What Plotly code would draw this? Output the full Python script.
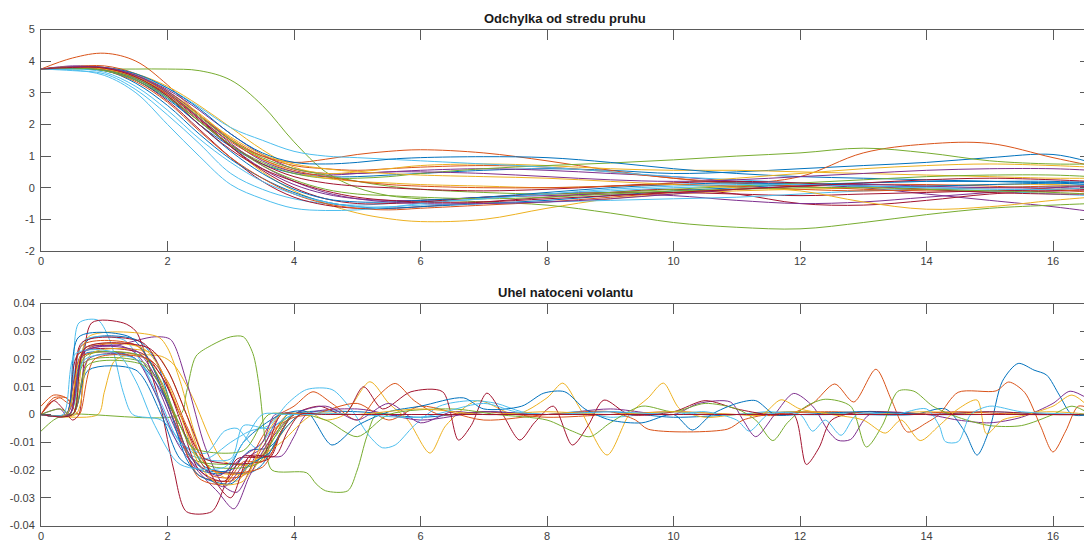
import plotly.graph_objects as go

# ---------------- data ----------------
colors = ["#0072BD", "#D95319", "#EDB120", "#7E2F8E", "#77AC30", "#4DBEEE", "#A2142F"]

title_top = "Odchylka od stredu pruhu"
title_bot = "Uhel natoceni volantu"

x_tickvals = [0, 2, 4, 6, 8, 10, 12, 14, 16]
x_ticktext = ["0", "2", "4", "6", "8", "10", "12", "14", "16"]
top_tickvals = [-2, -1, 0, 1, 2, 3, 4, 5]
top_ticktext = ["-2", "-1", "0", "1", "2", "3", "4", "5"]
bot_tickvals = [-0.04, -0.03, -0.02, -0.01, 0, 0.01, 0.02, 0.03, 0.04]
bot_ticktext = ["-0.04", "-0.03", "-0.02", "-0.01", "0", "0.01", "0.02", "0.03", "0.04"]

# lane deviation, sampled at these times
tt = [0, 0.5, 1, 1.5, 2, 2.5, 3, 3.5, 4, 4.5, 5, 5.5, 6, 7, 8, 9, 10, 11, 12, 13, 14, 15, 16, 16.6]

d01 = [3.75, 3.82, 3.78, 3.45, 2.85, 2.0, 1.3, 0.75, 0.45, 0.35, 0.35, 0.4, 0.45, 0.55, 0.6, 0.55, 0.45, 0.5, 0.6, 0.7, 0.8, 0.95, 1.05, 0.8]
d02 = [3.75, 4.1, 4.25, 4.0, 3.25, 2.3, 1.5, 1.0, 0.8, 0.9, 1.05, 1.15, 1.2, 1.1, 0.85, 0.55, 0.3, 0.15, 0.35, 1.1, 1.38, 1.4, 0.95, 0.7]
d03 = [3.75, 3.8, 3.75, 3.5, 3.0, 2.2, 1.3, 0.5, -0.1, -0.5, -0.8, -0.98, -1.07, -1.0, -0.65, -0.35, -0.2, -0.1, -0.05, 0.0, 0.05, 0.1, 0.1, 0.05]
d04 = [3.75, 3.85, 3.8, 3.55, 3.1, 2.45, 1.7, 1.05, 0.6, 0.45, 0.45, 0.5, 0.55, 0.6, 0.55, 0.45, 0.35, 0.2, 0.1, 0.0, -0.2, -0.4, -0.6, -0.75]
d05 = [3.75, 3.75, 3.75, 3.75, 3.75, 3.7, 3.4, 2.6, 1.45, 0.5, 0.0, -0.25, -0.35, -0.45, -0.55, -0.8, -1.1, -1.25, -1.3, -1.1, -0.85, -0.65, -0.55, -0.5]
d06 = [3.75, 3.7, 3.6, 3.1, 2.3, 1.4, 0.45, -0.05, -0.35, -0.5, -0.55, -0.5, -0.45, -0.35, -0.2, -0.1, 0.0, 0.05, 0.1, 0.15, 0.2, 0.2, 0.15, 0.1]
d07 = [3.75, 3.78, 3.72, 3.4, 2.75, 1.85, 0.95, 0.2, -0.3, -0.55, -0.65, -0.65, -0.6, -0.45, -0.3, -0.15, -0.05, -0.2, -0.5, -0.55, -0.4, -0.2, -0.1, -0.05]
d08 = [3.75, 3.8, 3.72, 3.3, 2.6, 1.7, 0.9, 0.3, -0.15, -0.45, -0.6, -0.65, -0.6, -0.5, -0.4, -0.25, -0.1, 0.0, 0.1, 0.15, 0.2, 0.2, 0.2, 0.15]
d09 = [3.75, 3.82, 3.85, 3.6, 3.05, 2.3, 1.55, 1.0, 0.7, 0.6, 0.55, 0.6, 0.65, 0.7, 0.65, 0.5, 0.3, 0.15, 0.05, -0.05, -0.1, -0.1, -0.05, 0.0]
d10 = [3.75, 3.83, 3.8, 3.6, 3.2, 2.6, 1.9, 1.2, 0.65, 0.45, 0.5, 0.6, 0.7, 0.75, 0.7, 0.6, 0.55, 0.55, 0.5, 0.45, 0.4, 0.35, 0.3, 0.3]
d11 = [3.75, 3.8, 3.75, 3.45, 2.9, 2.1, 1.3, 0.6, 0.1, -0.2, -0.35, -0.4, -0.4, -0.3, -0.25, -0.2, -0.25, -0.4, -0.5, -0.45, -0.3, -0.15, 0.0, 0.1]
d12 = [3.75, 3.78, 3.72, 3.45, 2.9, 2.1, 1.35, 0.8, 0.45, 0.3, 0.3, 0.35, 0.45, 0.6, 0.7, 0.78, 0.88, 1.0, 1.1, 1.25, 1.1, 0.85, 0.75, 0.75]
d13 = [3.75, 3.8, 3.75, 3.55, 3.15, 2.55, 1.9, 1.5, 1.15, 1.0, 0.95, 0.9, 0.85, 0.75, 0.65, 0.5, 0.35, 0.25, 0.15, 0.05, 0.0, 0.0, 0.05, 0.1]
d14 = [3.75, 3.8, 3.75, 3.5, 3.0, 2.2, 1.3, 0.55, 0.0, -0.35, -0.5, -0.5, -0.45, -0.3, -0.2, -0.15, -0.15, -0.2, -0.25, -0.2, -0.15, -0.1, -0.1, -0.1]
d15 = [3.75, 3.8, 3.8, 3.6, 3.15, 2.5, 1.7, 1.1, 0.8, 0.75, 0.8, 0.9, 0.95, 0.98, 0.95, 0.8, 0.6, 0.45, 0.35, 0.3, 0.25, 0.2, 0.15, 0.1]
d16 = [3.75, 3.78, 3.7, 3.35, 2.7, 1.8, 0.95, 0.3, -0.2, -0.5, -0.65, -0.7, -0.65, -0.55, -0.45, -0.3, -0.15, -0.05, 0.05, 0.1, 0.1, 0.05, -0.05, -0.15]
d17 = [3.75, 3.8, 3.78, 3.55, 3.05, 2.35, 1.55, 0.9, 0.5, 0.3, 0.2, 0.15, 0.1, 0.05, 0.0, 0.05, 0.15, 0.3, 0.45, 0.6, 0.7, 0.75, 0.7, 0.65]
d18 = [3.75, 3.82, 3.78, 3.55, 3.05, 2.3, 1.5, 0.85, 0.5, 0.4, 0.45, 0.5, 0.5, 0.45, 0.35, 0.25, 0.2, 0.25, 0.35, 0.45, 0.55, 0.6, 0.6, 0.55]
d19 = [3.75, 3.8, 3.75, 3.5, 3.0, 2.25, 1.5, 0.95, 0.6, 0.4, 0.2, 0.05, -0.05, -0.15, -0.2, -0.15, -0.05, 0.05, 0.15, 0.25, 0.35, 0.4, 0.4, 0.35]
d20 = [3.75, 3.76, 3.65, 3.2, 2.45, 1.55, 0.8, 0.2, -0.2, -0.45, -0.6, -0.6, -0.55, -0.5, -0.45, -0.4, -0.35, -0.3, -0.2, -0.1, -0.05, -0.1, -0.2, -0.25]
d21 = [3.75, 3.8, 3.75, 3.5, 2.95, 2.15, 1.35, 0.75, 0.35, 0.15, 0.05, 0.0, -0.05, -0.1, -0.05, 0.05, 0.15, 0.2, 0.15, 0.05, -0.05, -0.15, -0.2, -0.2]
d22 = [3.75, 3.78, 3.7, 3.4, 2.8, 2.0, 1.15, 0.45, -0.05, -0.35, -0.45, -0.45, -0.4, -0.3, -0.15, 0.0, 0.1, 0.15, 0.1, 0.05, 0.05, 0.1, 0.15, 0.2]
d23 = [3.75, 3.8, 3.78, 3.5, 2.95, 2.2, 1.45, 0.9, 0.55, 0.35, 0.2, 0.1, 0.05, 0.0, 0.0, 0.05, 0.1, 0.05, -0.05, -0.1, -0.05, 0.0, 0.05, 0.05]
d24 = [3.75, 3.8, 3.75, 3.5, 3.0, 2.3, 1.6, 1.05, 0.75, 0.6, 0.5, 0.45, 0.4, 0.35, 0.3, 0.2, 0.1, 0.0, -0.1, -0.45, -0.68, -0.6, -0.4, -0.3]
d25 = [3.75, 3.82, 3.8, 3.55, 3.0, 2.2, 1.4, 0.7, 0.2, -0.15, -0.35, -0.45, -0.5, -0.5, -0.45, -0.35, -0.2, -0.05, 0.05, 0.1, 0.05, 0.0, 0.0, 0.05]
d26 = [3.75, 3.78, 3.7, 3.4, 2.85, 2.1, 1.35, 0.7, 0.25, -0.05, -0.2, -0.25, -0.3, -0.35, -0.3, -0.2, -0.1, -0.05, 0.0, 0.0, -0.05, -0.1, -0.15, -0.2]
d27 = [3.75, 3.72, 3.55, 3.0, 2.0, 1.0, 0.1, -0.35, -0.65, -0.72, -0.7, -0.62, -0.5, -0.35, -0.2, -0.05, 0.05, 0.1, 0.1, 0.05, 0.0, -0.05, -0.05, 0.0]
d28 = [3.75, 3.8, 3.78, 3.5, 2.9, 2.0, 1.2, 0.6, 0.2, -0.1, -0.3, -0.4, -0.45, -0.45, -0.35, -0.25, -0.15, -0.05, 0.05, 0.15, 0.25, 0.3, 0.25, 0.2]

dev_series = [d01, d02, d03, d04, d05, d06, d07, d08, d09, d10, d11, d12, d13, d14,
              d15, d16, d17, d18, d19, d20, d21, d22, d23, d24, d25, d26, d27, d28]

# steering angle: breakpoint times / values for each run
st01 = [0, 0.4, 0.5, 0.6, 0.7, 1.3, 1.5, 1.8, 2.1, 2.4, 2.6, 3.3, 3.5, 3.8, 4.0, 5.0, 6.0, 7.0, 8.0, 9.0, 10.0, 11.0, 12.0, 13.0, 13.8, 14.3, 14.6, 14.8, 15.0, 15.2, 15.45, 15.7, 15.9, 16.1, 16.3, 16.6]
sv01 = [0, 0, 0.006, 0.018, 0.022, 0.022, 0.02, 0.012, 0.0, -0.012, -0.019, -0.021, -0.018, -0.006, 0.0, 0.001, -0.001, 0.001, 0.0, 0.001, -0.001, 0.0, 0.001, 0.0, 0.0, 0.002, -0.006, -0.0146, -0.005, 0.012, 0.0184, 0.016, 0.0142, 0.007, 0.0, 0.0]
st02 = [0, 0.2, 0.3, 0.45, 0.55, 0.7, 0.9, 1.5, 1.7, 2.0, 2.3, 2.5, 3.0, 3.2, 3.5, 3.7, 4.0, 4.3, 4.6, 5.0, 5.3, 5.6, 5.9, 6.3, 7.0, 8.0, 9.0, 10.0, 11.0, 11.8, 12.2, 12.55, 12.85, 13.2, 13.45, 13.7, 14.0, 14.2, 14.5, 15.1, 15.3, 15.55, 15.8, 16.0, 16.2, 16.4, 16.6]
sv02 = [0, 0.005, 0.006, 0.004, 0.012, 0.023, 0.025, 0.025, 0.02, 0.004, -0.014, -0.022, -0.024, -0.02, -0.008, -0.001, 0.003, 0.0082, 0.004, -0.002, 0.006, 0.0112, 0.005, 0.0, 0.001, -0.001, 0.0, 0.001, 0.0, 0.0, 0.004, 0.011, 0.0045, 0.0163, 0.005, -0.0063, -0.003, 0.0, 0.008, 0.0085, 0.0117, 0.008, -0.004, -0.0135, -0.006, 0.003, 0.002]
st03 = [0, 0.9, 1.0, 1.15, 1.3, 1.9, 2.1, 2.4, 2.7, 2.9, 3.4, 3.6, 3.9, 4.2, 4.5, 4.8, 5.2, 5.5, 5.8, 6.15, 6.4, 6.9, 7.5, 8.0, 8.25, 8.5, 8.95, 9.3, 9.6, 9.84, 10.1, 10.5, 11.0, 12.0, 13.0, 14.0, 15.0, 16.0, 16.6]
sv03 = [0, 0, 0.008, 0.019, 0.021, 0.021, 0.018, 0.006, -0.01, -0.017, -0.018, -0.014, -0.004, 0.001, -0.002, 0.0, 0.0118, 0.004, -0.002, -0.0139, -0.004, 0.005, 0.0, 0.006, 0.0113, 0.003, -0.0146, 0.0, 0.006, 0.0113, 0.002, -0.001, 0.0, 0.001, 0.0, 0.001, 0.0, 0.001, 0.0]
st04 = [0, 0.4, 0.5, 0.6, 0.7, 1.2, 1.8, 2.05, 2.3, 2.6, 2.9, 3.1, 3.3, 3.4, 3.8, 4.0, 4.2, 5.0, 6.0, 7.0, 8.0, 9.0, 10.0, 10.4, 10.9, 11.1, 11.3, 11.6, 11.9, 12.2, 12.45, 12.6, 12.8, 13.1, 14.0, 14.5, 15.0, 15.5, 16.0, 16.27, 16.6]
sv04 = [0, 0.0, 0.004, 0.016, 0.024, 0.025, 0.028, 0.027, 0.012, -0.012, -0.026, -0.028, -0.02, -0.015, -0.015, -0.008, 0.0, 0.002, -0.002, 0.001, 0.0, 0.002, 0.0, 0.004, 0.0045, -0.002, -0.008, 0.0, 0.0076, 0.003, -0.006, -0.0093, -0.009, 0.0, 0.0, -0.002, -0.003, -0.001, 0.004, 0.0084, 0.005]
st05 = [0, 0.2, 0.4, 2.2, 2.3, 2.45, 2.7, 3.0, 3.2, 3.35, 3.45, 3.55, 3.65, 4.2, 4.35, 4.5, 4.85, 5.0, 5.15, 5.3, 5.6, 16.6]
sv05 = [-0.006, -0.002, 0.0, 0.0, 0.008, 0.021, 0.025, 0.028, 0.028, 0.022, 0.01, -0.01, -0.02, -0.021, -0.025, -0.0275, -0.0275, -0.02, -0.008, 0.0, 0.0, 0.0]
st06 = [0, 0.4, 0.5, 0.6, 0.9, 1.1, 1.3, 1.45, 1.9, 2.3, 2.6, 3.0, 3.3, 3.6, 3.9, 4.2, 4.6, 4.9, 5.2, 5.4, 5.6, 5.9, 6.3, 6.8, 7.2, 7.6, 8.0, 8.5, 9.0, 9.5, 10.0, 10.5, 11.0, 11.5, 12.0, 12.5, 13.0, 14.0, 15.0, 16.0, 16.6]
sv06 = [0, 0.0, 0.012, 0.033, 0.034, 0.026, 0.008, 0.0, -0.002, -0.012, -0.016, -0.01, -0.006, -0.004, 0.004, 0.009, 0.009, 0.002, -0.008, -0.012, -0.011, -0.004, 0.003, 0.005, 0.004, 0.001, 0.0, 0.001, -0.001, 0.0, 0.001, 0.0, 0.0, 0.001, 0.0, 0.0, 0.001, 0.0, 0.001, 0.0, 0.0]
st07 = [0, 0.2, 0.35, 0.5, 0.6, 0.8, 1.3, 1.5, 1.7, 1.9, 2.1, 2.3, 2.7, 2.9, 3.1, 3.6, 3.8, 4.0, 4.4, 4.8, 5.1, 5.4, 5.85, 6.35, 6.6, 6.8, 7.05, 7.3, 7.57, 7.8, 8.1, 8.4, 8.65, 8.9, 9.3, 10.0, 10.5, 11.0, 11.5, 11.9, 12.1, 12.3, 12.5, 13.0, 14.0, 15.0, 16.0, 16.6]
sv07 = [0, 0.005, 0.002, -0.002, 0.0, 0.033, 0.033, 0.03, 0.018, 0.002, -0.02, -0.035, -0.035, -0.026, -0.016, -0.015, -0.006, 0.0, 0.003, 0.0, 0.01, 0.002, 0.0082, 0.0082, -0.0092, -0.004, 0.0077, 0.0, -0.0092, -0.003, 0.003, -0.011, -0.004, 0.0052, 0.0, 0.001, 0.005, 0.002, 0.0, 0.0, -0.018, -0.012, -0.002, 0.001, 0.0, 0.001, 0.0, 0.0]
st08 = [0, 0.45, 0.55, 0.75, 1.5, 1.8, 2.1, 2.35, 2.6, 3.0, 3.3, 3.6, 3.9, 4.1, 4.5, 16.6]
sv08 = [0, 0, 0.01, 0.027, 0.027, 0.02, 0.0, -0.015, -0.02, -0.02, -0.013, -0.012, -0.004, 0.0, 0.0, 0.0]
st09 = [0, 0.2, 0.4, 0.45, 0.65, 1.6, 1.9, 2.2, 2.5, 2.7, 3.2, 3.5, 3.7, 4.0, 4.3, 5.0, 5.5, 6.0, 7.0, 8.0, 9.0, 9.4, 9.6, 10.85, 11.1, 11.5, 12.5, 13.5, 14.5, 15.5, 16.6]
sv09 = [0.0, 0.006, 0.006, 0.005, 0.021, 0.021, 0.014, 0.0, -0.016, -0.022, -0.022, -0.012, -0.005, -0.001, 0.0, 0.004, -0.002, 0.003, -0.002, 0.0, 0.001, -0.002, -0.0053, -0.0053, -0.002, 0.0, 0.001, 0.0, 0.001, 0.0, 0.0]
st10 = [0, 0.5, 0.6, 0.75, 1.85, 2.0, 2.2, 2.45, 2.7, 3.3, 3.5, 3.8, 4.0, 4.4, 16.6]
sv10 = [0, 0, 0.01, 0.028, 0.028, 0.024, 0.012, -0.008, -0.02, -0.021, -0.014, -0.003, 0.0, 0.0, 0.0]
st11 = [0, 0.3, 0.4, 0.65, 1.2, 1.5, 1.8, 2.1, 2.4, 2.8, 3.05, 3.3, 3.6, 4.0, 4.5, 5.0, 5.5, 6.0, 6.5, 7.0, 7.4, 16.6]
sv11 = [0, 0.002, 0.0, 0.022, 0.025, 0.022, 0.012, -0.004, -0.018, -0.028, -0.034, -0.022, -0.01, 0.0, 0.003, -0.002, 0.004, -0.003, 0.001, 0.0, 0.0, 0.0]
st12 = [0, 0.45, 0.7, 1.6, 1.8, 2.1, 2.4, 3.0, 3.4, 3.7, 4.0, 4.5, 5.0, 5.5, 6.5, 7.2, 8.0, 8.4, 8.68, 9.0, 9.5, 10.0, 10.5, 11.0, 11.3, 11.57, 11.8, 12.1, 12.4, 12.8, 13.05, 13.3, 13.55, 13.8, 14.1, 14.5, 15.0, 15.5, 16.0, 16.3, 16.6]
sv12 = [0, 0, 0.019, 0.019, 0.014, 0.0, -0.016, -0.018, -0.017, -0.008, 0.0, -0.002, -0.008, 0.0, 0.002, 0.0, -0.002, -0.006, -0.008, -0.003, 0.003, 0.001, 0.004, 0.002, -0.002, -0.0094, -0.003, 0.003, 0.0055, 0.003, -0.0117, -0.004, 0.0084, 0.0084, 0.003, -0.001, -0.004, -0.004, 0.0, 0.003, 0.0]
st13 = [0, 0.4, 0.5, 0.7, 1.3, 1.5, 1.8, 2.1, 2.4, 3.0, 3.2, 3.6, 4.0, 4.4, 16.6]
sv13 = [0, 0, 0.012, 0.027, 0.027, 0.022, 0.008, -0.008, -0.015, -0.016, -0.004, -0.005, 0.0, 0.0, 0.0]
st14 = [0, 0.4, 0.6, 1.6, 1.9, 2.2, 2.6, 3.6, 3.8, 4.0, 4.4, 16.6]
sv14 = [0, 0, 0.022, 0.022, 0.014, 0.0, -0.016, -0.016, -0.006, 0.0, 0.0, 0.0]
st15 = [0, 0.5, 0.75, 1.5, 1.9, 2.2, 2.5, 2.9, 3.2, 3.5, 3.8, 4.2, 4.6, 5.0, 5.5, 6.0, 6.68, 7.0, 7.6, 7.95, 8.28, 8.6, 9.0, 9.5, 10.0, 10.3, 10.6, 11.0, 11.3, 11.6, 12.0, 13.0, 14.0, 15.0, 16.6]
sv15 = [0, 0, 0.016, 0.016, 0.0, -0.016, -0.02, -0.021, -0.01, -0.004, 0.0, 0.001, -0.011, -0.004, 0.001, 0.003, 0.006, 0.002, 0.003, 0.0077, 0.0082, 0.002, -0.002, -0.003, 0.0, -0.0056, 0.0, 0.004, 0.005, 0.0, 0.0, 0.001, 0.0, 0.0, 0.0]
st16 = [0, 0.45, 0.65, 1.5, 1.8, 2.1, 2.5, 2.9, 3.2, 3.5, 3.7, 3.9, 4.3, 16.6]
sv16 = [0, 0, 0.025, 0.025, 0.016, 0.0, -0.023, -0.025, -0.017, -0.017, -0.006, 0.0, 0.0, 0.0]
st17 = [0, 0.55, 0.8, 1.8, 2.0, 2.3, 2.6, 3.1, 3.3, 3.8, 4.3, 5.0, 6.0, 7.0, 8.0, 9.0, 10.0, 11.0, 11.4, 11.7, 12.0, 12.5, 13.0, 13.35, 13.6, 13.9, 14.2, 14.5, 14.8, 14.95, 15.2, 15.6, 16.0, 16.3, 16.6]
sv17 = [0, 0, 0.022, 0.022, 0.016, 0.0, -0.018, -0.024, -0.018, -0.01, 0.0, 0.0, 0.002, 0.0, 0.001, 0.0, 0.001, 0.0, 0.0, 0.0053, 0.002, 0.0, -0.002, -0.0067, -0.002, -0.0094, -0.004, 0.002, 0.0052, -0.007, -0.002, 0.0, 0.003, 0.007, 0.002]
st18 = [0, 0.5, 0.75, 1.2, 1.5, 1.8, 2.2, 2.6, 2.9, 3.3, 3.5, 3.8, 4.2, 16.6]
sv18 = [0, 0, 0.02, 0.022, 0.02, 0.008, -0.012, -0.022, -0.026, -0.015, -0.012, 0.0, 0.0, 0.0]
st19 = [0, 0.3, 0.5, 0.7, 1.6, 1.9, 2.2, 2.6, 3.4, 3.7, 3.9, 4.3, 16.6]
sv19 = [0, 0.002, 0.0, 0.021, 0.021, 0.012, -0.004, -0.018, -0.018, -0.008, 0.0, 0.0, 0.0]
st20 = [0, 0.45, 0.7, 1.5, 1.9, 2.2, 2.6, 2.9, 3.1, 3.4, 3.7, 4.0, 5.0, 6.0, 7.0, 7.5, 8.0, 9.0, 10.0, 10.5, 11.0, 11.2, 11.5, 12.0, 12.2, 12.4, 12.65, 12.9, 13.5, 14.0, 14.2, 14.3, 14.5, 14.7, 15.0, 15.5, 16.6]
sv20 = [0, 0, 0.02, 0.02, 0.004, -0.01, -0.014, -0.006, -0.005, -0.012, -0.004, 0.0, 0.0, -0.001, 0.004, 0.001, 0.0, 0.001, 0.0, 0.001, -0.002, -0.006, 0.0, 0.0, -0.006, -0.002, -0.0075, 0.0, 0.0, 0.002, -0.004, -0.0098, -0.0098, 0.0, 0.003, 0.001, 0.0]
st21 = [0, 0.45, 0.65, 1.6, 1.9, 2.2, 2.5, 2.9, 3.2, 3.5, 3.8, 4.2, 16.6]
sv21 = [0, 0, 0.026, 0.026, 0.016, -0.002, -0.02, -0.024, -0.015, -0.015, 0.0, 0.0, 0.0]
st22 = [0, 0.4, 0.6, 1.4, 1.7, 2.0, 2.3, 2.5, 3.0, 3.3, 3.6, 4.0, 4.4, 16.6]
sv22 = [0, 0, 0.028, 0.028, 0.02, 0.004, -0.016, -0.022, -0.025, -0.018, -0.014, 0.0, 0.0, 0.0]
st23 = [0, 0.2, 0.4, 0.6, 0.85, 1.7, 2.0, 2.3, 2.7, 3.5, 3.8, 4.0, 4.4, 16.6]
sv23 = [0.003, 0.007, 0.006, 0.0, 0.02, 0.02, 0.012, -0.004, -0.02, -0.019, -0.006, 0.0, 0.0, 0.0]
st24 = [0, 0.4, 0.7, 1.6, 1.9, 2.2, 2.5, 2.8, 3.2, 3.5, 3.8, 4.2, 16.6]
sv24 = [0, 0, 0.024, 0.024, 0.016, 0.0, -0.018, -0.025, -0.024, -0.01, 0.0, 0.0, 0.0]
st25 = [0, 0.45, 0.7, 1.5, 1.8, 2.1, 2.4, 2.8, 3.2, 3.5, 3.7, 4.1, 16.6]
sv25 = [0, 0, 0.023, 0.023, 0.014, -0.002, -0.016, -0.022, -0.015, -0.01, 0.0, 0.0, 0.0]
st26 = [0, 0.5, 0.75, 1.6, 1.9, 2.2, 2.4, 3.2, 3.6, 4.0, 16.6]
sv26 = [0, 0, 0.018, 0.018, 0.01, -0.004, -0.012, -0.013, 0.0, 0.0, 0.0]
st27 = [0, 0.35, 0.55, 1.2, 1.5, 1.8, 2.2, 2.9, 3.2, 3.5, 3.9, 16.6]
sv27 = [0, 0, 0.022, 0.022, 0.012, -0.004, -0.018, -0.019, -0.01, 0.0, 0.0, 0.0]
st28 = [0, 0.5, 0.7, 1.7, 2.0, 2.3, 2.7, 3.0, 3.3, 3.7, 3.9, 4.1, 4.5, 16.6]
sv28 = [0, 0, 0.024, 0.024, 0.016, 0.0, -0.022, -0.03, -0.015, -0.015, -0.006, 0.0, 0.0, 0.0]

steer_times = [st01, st02, st03, st04, st05, st06, st07, st08, st09, st10, st11, st12, st13, st14,
               st15, st16, st17, st18, st19, st20, st21, st22, st23, st24, st25, st26, st27, st28]
steer_vals = [sv01, sv02, sv03, sv04, sv05, sv06, sv07, sv08, sv09, sv10, sv11, sv12, sv13, sv14,
              sv15, sv16, sv17, sv18, sv19, sv20, sv21, sv22, sv23, sv24, sv25, sv26, sv27, sv28]

# ---------------- figure ----------------
W, H = 1084, 542
L = 41
fig = go.Figure()

for i, ys in enumerate(dev_series):
    fig.add_trace(go.Scatter(x=tt, y=ys, mode="lines", xaxis="x", yaxis="y",
                             line=dict(color=colors[i % 7], width=1, shape="spline", smoothing=1.0),
                             showlegend=False, hoverinfo="skip"))

for i, (ts, vs) in enumerate(zip(steer_times, steer_vals)):
    fig.add_trace(go.Scatter(x=ts, y=vs, mode="lines", xaxis="x2", yaxis="y3",
                             line=dict(color=colors[i % 7], width=1, shape="spline", smoothing=0.8),
                             showlegend=False, hoverinfo="skip"))

XMAX = (W - L) / 63.25
top_dom = [1 - 251.0 / H, 1 - 29.5 / H]
bot_dom = [1 - 525.5 / H, 1 - 303.5 / H]

axis_col = "#5a5a5a"
tick_font = dict(family="Arial, Liberation Sans, sans-serif", size=11, color="#404040")
title_font = dict(family="Arial, Liberation Sans, sans-serif", size=13, color="#1a1a1a")

xcommon = dict(range=[0, XMAX], tickvals=x_tickvals, ticktext=x_ticktext, ticks="inside",
               ticklen=10, tickcolor=axis_col, showline=True, linecolor=axis_col, linewidth=1,
               mirror="ticks", showgrid=False, zeroline=False, tickfont=tick_font, automargin=False)
ycommon = dict(ticks="inside", ticklen=10, tickcolor=axis_col, showline=True, linecolor=axis_col,
               linewidth=1, showgrid=False, zeroline=False, tickfont=tick_font, ticklabelstandoff=3,
               automargin=False)
yright = dict(ticks="inside", ticklen=4, tickcolor=axis_col, showline=False, showgrid=False,
              zeroline=False, showticklabels=False, side="right", automargin=False)

fig.update_layout(
    width=W, height=H,
    margin=dict(l=L, r=0, t=0, b=0, autoexpand=False),
    paper_bgcolor="white", plot_bgcolor="white",
    xaxis=dict(domain=[0, 1], anchor="y", **xcommon),
    xaxis2=dict(domain=[0, 1], anchor="y3", **xcommon),
    yaxis=dict(domain=top_dom, anchor="x", range=[-2, 5], tickvals=top_tickvals,
               ticktext=top_ticktext, **ycommon),
    yaxis2=dict(overlaying="y", anchor="x", range=[-2, 5], tickvals=top_tickvals, **yright),
    yaxis3=dict(domain=bot_dom, anchor="x2", range=[-0.04, 0.04], tickvals=bot_tickvals,
                ticktext=bot_ticktext, **ycommon),
    yaxis4=dict(overlaying="y3", anchor="x2", range=[-0.04, 0.04], tickvals=bot_tickvals, **yright),
    annotations=[
        dict(text="<b>" + title_top + "</b>", xref="paper", yref="paper",
             x=(565 - L) / (W - L), y=1 - 19.0 / H, xanchor="center", yanchor="middle",
             showarrow=False, font=title_font),
        dict(text="<b>" + title_bot + "</b>", xref="paper", yref="paper",
             x=(565 - L) / (W - L), y=1 - 292.0 / H, xanchor="center", yanchor="middle",
             showarrow=False, font=title_font),
    ],
)

# dummy traces so the right-side tick axes are drawn
fig.add_trace(go.Scatter(x=[None], y=[None], xaxis="x", yaxis="y2", showlegend=False))
fig.add_trace(go.Scatter(x=[None], y=[None], xaxis="x2", yaxis="y4", showlegend=False))

fig.write_html("out.html")
